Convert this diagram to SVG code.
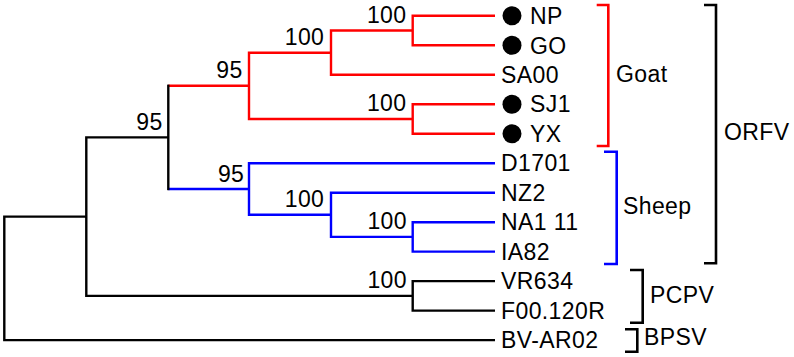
<svg xmlns="http://www.w3.org/2000/svg" width="794" height="357" viewBox="0 0 794 357">
<style>
text{font-family:"Liberation Sans",Arial,sans-serif;font-size:23px;letter-spacing:0.4px;fill:#000}
.bs{text-anchor:end}
.e{fill:none;stroke-width:2.4;stroke-linejoin:miter}
.r{stroke:#ff0000}
.b{stroke:#0000ff}
.k{stroke:#000}
.br{fill:none;stroke-width:2.6}
</style>
<rect width="794" height="357" fill="#fff"/>
<g id="connectors">
<path class="e r" d="M168.3 85.8 H249 M331 52.7 H249 V119 H412.7 M412.7 30.5 H331 V74.8 H495 M495 15.8 H412.7 V45.3 H495 M495 104.2 H412.7 V133.7 H495"/>
<path class="e b" d="M168.3 189 H249 M495 163.2 H249 V214.8 H331 M495 192.7 H331 V236.9 H412.7 M495 222.2 H412.7 V251.6 H495"/>
<path class="e k" stroke-linecap="square" d="M168.3 85.8 V189"/>
<path class="e k" d="M168.3 137.4 H86.3 V295.9 H412.7 M495 281.1 H412.7 V310.6 H495 M86.3 216.6 H4.3 V340.1 H495"/>
</g>
<g id="bootstrap">
<text class="bs" x="406.5" y="22.7">100</text>
<text class="bs" x="324.3" y="45">100</text>
<text class="bs" x="406.5" y="111">100</text>
<text class="bs" x="242.7" y="78.3">95</text>
<text class="bs" x="244.3" y="181.7">95</text>
<text class="bs" x="324.3" y="206.7">100</text>
<text class="bs" x="407" y="229.3">100</text>
<text class="bs" x="407" y="287.7">100</text>
<text class="bs" x="162.7" y="130">95</text>
</g>
<g id="NP"><circle cx="512" cy="15.8" r="9.5"/><text x="530" y="24">NP</text></g>
<g id="GO"><circle cx="512" cy="45.3" r="9.5"/><text x="530" y="53.5">GO</text></g>
<g id="SA00"><text x="501" y="83">SA00</text></g>
<g id="SJ1"><circle cx="512" cy="104.2" r="9.5"/><text x="530" y="112.4">SJ1</text></g>
<g id="YX"><circle cx="512" cy="133.7" r="9.5"/><text x="530" y="141.9">YX</text></g>
<g id="D1701"><text x="501" y="171.4">D1701</text></g>
<g id="NZ2"><text x="501" y="200.9">NZ2</text></g>
<g id="NA1_11"><text x="501" y="230.4">NA1 11</text></g>
<g id="IA82"><text x="501" y="259.8">IA82</text></g>
<g id="VR634"><text x="501" y="289.3">VR634</text></g>
<g id="F00.120R"><text x="501" y="318.8">F00.120R</text></g>
<g id="BV-AR02"><text x="501" y="348.3">BV-AR02</text></g>
<g id="Goat"><path class="br r" d="M596.7 5 H608.3 V146 H596.7"/><text x="616" y="81.7">Goat</text></g>
<g id="Sheep"><path class="br b" d="M604 151.7 H616.7 V264 H604"/><text x="623" y="214">Sheep</text></g>
<g id="ORFV"><path class="br k" d="M704 5 H716 V263.3 H704"/><text x="724" y="140">ORFV</text></g>
<g id="PCPV"><path class="br k" d="M630 270 H642.7 V322.7 H630"/><text x="650" y="302.7">PCPV</text></g>
<g id="BPSV"><path class="br k" d="M625 329.3 H637.3 V351.7 H625"/><text x="644" y="345">BPSV</text></g>
</svg>
